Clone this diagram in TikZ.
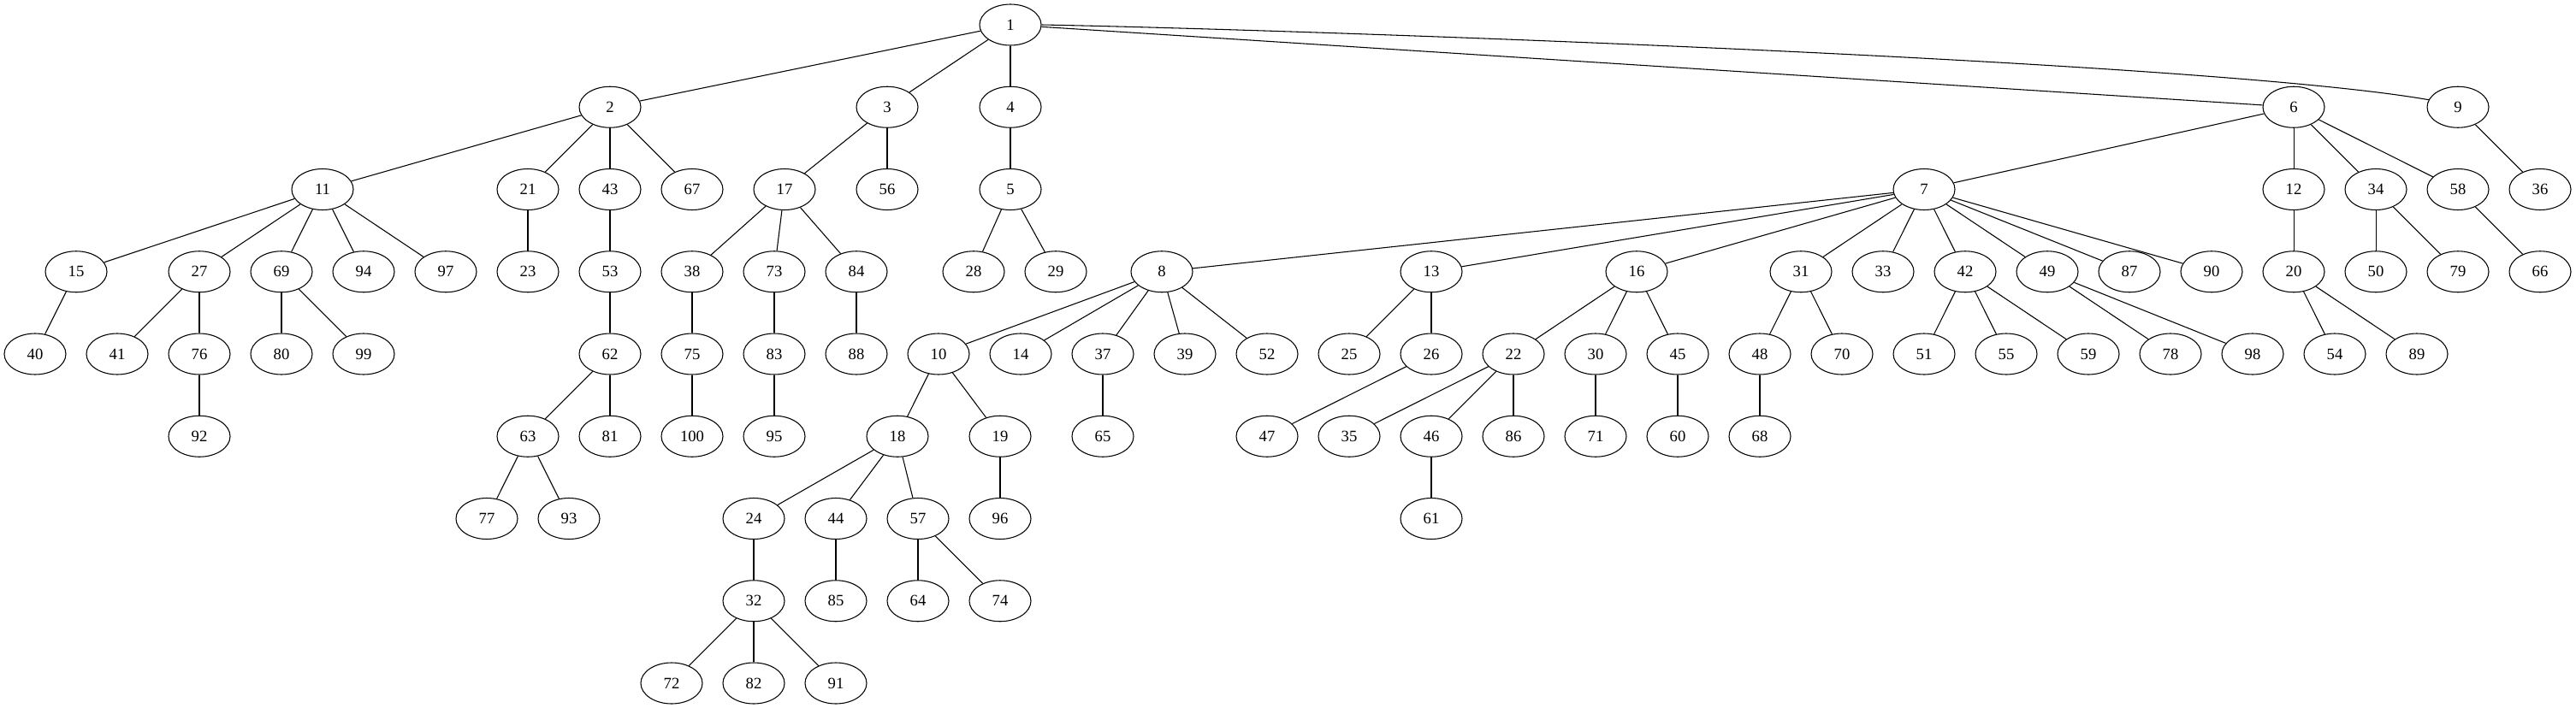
\documentclass[tikz,border=0pt]{standalone}
\usepackage{fontspec}
\setmainfont{Liberation Serif}
\usetikzlibrary{shapes.geometric}

\begin{document}
\begin{tikzpicture}[x=0.75pt,y=72.1875pt,line width=0.8pt,
    tree node/.style={ellipse,draw,minimum width=54pt,minimum height=36pt,inner sep=0pt,
      font=\fontsize{14pt}{16pt}\selectfont}]

\useasboundingbox (0,0.3013) rectangle (3011,-8.291);

% rank 0 and 1
\node[tree node] (1) at (1181,0) {1};
\node[tree node] (2) at (713,-1) {2};
\node[tree node] (3) at (1037,-1) {3};
\node[tree node] (4) at (1181,-1) {4};
\node[tree node] (6) at (2681,-1) {6};
\node[tree node] (9) at (2873,-1) {9};

% rank 2
\node[tree node] (11) at (377,-2) {11};
\node[tree node] (21) at (617,-2) {21};
\node[tree node] (43) at (713,-2) {43};
\node[tree node] (67) at (809,-2) {67};
\node[tree node] (17) at (917,-2) {17};
\node[tree node] (56) at (1037,-2) {56};
\node[tree node] (5) at (1181,-2) {5};
\node[tree node] (7) at (2249,-2) {7};
\node[tree node] (12) at (2681,-2) {12};
\node[tree node] (34) at (2777,-2) {34};
\node[tree node] (58) at (2873,-2) {58};
\node[tree node] (36) at (2969,-2) {36};

% rank 3
\node[tree node] (15) at (89,-3) {15};
\node[tree node] (27) at (233,-3) {27};
\node[tree node] (69) at (329,-3) {69};
\node[tree node] (94) at (425,-3) {94};
\node[tree node] (97) at (521,-3) {97};
\node[tree node] (23) at (617,-3) {23};
\node[tree node] (53) at (713,-3) {53};
\node[tree node] (38) at (809,-3) {38};
\node[tree node] (73) at (905,-3) {73};
\node[tree node] (84) at (1001,-3) {84};
\node[tree node] (28) at (1138,-3) {28};
\node[tree node] (29) at (1234,-3) {29};
\node[tree node] (8) at (1358,-3) {8};
\node[tree node] (13) at (1673,-3) {13};
\node[tree node] (16) at (1913,-3) {16};
\node[tree node] (31) at (2105,-3) {31};
\node[tree node] (33) at (2201,-3) {33};
\node[tree node] (42) at (2297,-3) {42};
\node[tree node] (49) at (2393,-3) {49};
\node[tree node] (87) at (2489,-3) {87};
\node[tree node] (90) at (2585,-3) {90};
\node[tree node] (20) at (2681,-3) {20};
\node[tree node] (50) at (2777,-3) {50};
\node[tree node] (79) at (2873,-3) {79};
\node[tree node] (66) at (2969,-3) {66};

% rank 4
\node[tree node] (40) at (41,-4) {40};
\node[tree node] (41) at (137,-4) {41};
\node[tree node] (76) at (233,-4) {76};
\node[tree node] (80) at (329,-4) {80};
\node[tree node] (99) at (425,-4) {99};
\node[tree node] (62) at (713,-4) {62};
\node[tree node] (75) at (809,-4) {75};
\node[tree node] (83) at (905,-4) {83};
\node[tree node] (88) at (1001,-4) {88};
\node[tree node] (10) at (1097,-4) {10};
\node[tree node] (14) at (1193,-4) {14};
\node[tree node] (37) at (1289,-4) {37};
\node[tree node] (39) at (1385,-4) {39};
\node[tree node] (52) at (1481,-4) {52};
\node[tree node] (25) at (1577,-4) {25};
\node[tree node] (26) at (1673,-4) {26};
\node[tree node] (22) at (1769,-4) {22};
\node[tree node] (30) at (1865,-4) {30};
\node[tree node] (45) at (1961,-4) {45};
\node[tree node] (48) at (2057,-4) {48};
\node[tree node] (70) at (2153,-4) {70};
\node[tree node] (51) at (2249,-4) {51};
\node[tree node] (55) at (2345,-4) {55};
\node[tree node] (59) at (2441,-4) {59};
\node[tree node] (78) at (2537,-4) {78};
\node[tree node] (98) at (2633,-4) {98};
\node[tree node] (54) at (2729,-4) {54};
\node[tree node] (89) at (2825,-4) {89};

% rank 5
\node[tree node] (92) at (233,-5) {92};
\node[tree node] (63) at (617,-5) {63};
\node[tree node] (81) at (713,-5) {81};
\node[tree node] (100) at (809,-5) {100};
\node[tree node] (95) at (905,-5) {95};
\node[tree node] (18) at (1049,-5) {18};
\node[tree node] (19) at (1169,-5) {19};
\node[tree node] (65) at (1289,-5) {65};
\node[tree node] (47) at (1481,-5) {47};
\node[tree node] (35) at (1577,-5) {35};
\node[tree node] (46) at (1673,-5) {46};
\node[tree node] (86) at (1769,-5) {86};
\node[tree node] (71) at (1865,-5) {71};
\node[tree node] (60) at (1961,-5) {60};
\node[tree node] (68) at (2057,-5) {68};

% rank 6 to 8
\node[tree node] (77) at (569,-6) {77};
\node[tree node] (93) at (665,-6) {93};
\node[tree node] (24) at (881,-6) {24};
\node[tree node] (44) at (977,-6) {44};
\node[tree node] (57) at (1073,-6) {57};
\node[tree node] (96) at (1169,-6) {96};
\node[tree node] (61) at (1673,-6) {61};
\node[tree node] (32) at (881,-7) {32};
\node[tree node] (85) at (977,-7) {85};
\node[tree node] (64) at (1073,-7) {64};
\node[tree node] (74) at (1169,-7) {74};
\node[tree node] (72) at (785,-8) {72};
\node[tree node] (82) at (881,-8) {82};
\node[tree node] (91) at (977,-8) {91};

% the long edge to 9 bends down
\draw (1.east) .. controls +(266,-0.05) and +(-262,0.48) .. (9.166);

\path
(1) edge (2) edge (3) edge (4) edge (6)
(2) edge (11) edge (21) edge (43) edge (67)
(3) edge (17) edge (56)
(4) edge (5)
(6) edge (7) edge (12) edge (34) edge (58)
(9) edge (36)
(11) edge (15) edge (27) edge (69) edge (94) edge (97)
(21) edge (23)
(43) edge (53)
(17) edge (38) edge (73) edge (84)
(5) edge (28) edge (29)
(7) edge (8) edge (13) edge (16) edge (31) edge (33) edge (42) edge (49) edge (87) edge (90)
(12) edge (20)
(34) edge (50) edge (79)
(58) edge (66)
(15) edge (40)
(27) edge (41) edge (76)
(69) edge (80) edge (99)
(53) edge (62)
(38) edge (75)
(73) edge (83)
(84) edge (88)
(8) edge (10) edge (14) edge (37) edge (39) edge (52)
(13) edge (25) edge (26)
(16) edge (22) edge (30) edge (45)
(31) edge (48) edge (70)
(42) edge (51) edge (55) edge (59)
(49) edge (78) edge (98)
(20) edge (54) edge (89)
(76) edge (92)
(62) edge (63) edge (81)
(75) edge (100)
(83) edge (95)
(10) edge (18) edge (19)
(37) edge (65)
(26) edge (47)
(22) edge (35) edge (46) edge (86)
(30) edge (71)
(45) edge (60)
(48) edge (68)
(63) edge (77) edge (93)
(18) edge (24) edge (44) edge (57)
(19) edge (96)
(46) edge (61)
(24) edge (32)
(44) edge (85)
(57) edge (64) edge (74)
(32) edge (72) edge (82) edge (91);
\end{tikzpicture}
\end{document}
